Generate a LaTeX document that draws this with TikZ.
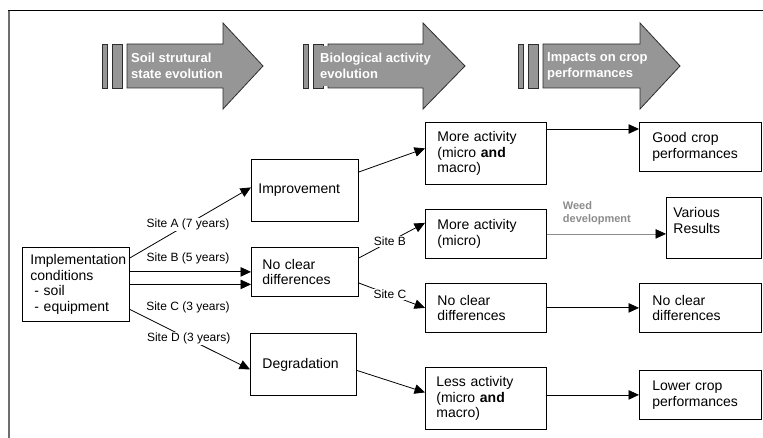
\documentclass[tikz,border=0pt]{standalone}
\usepackage{fontspec}
\setmainfont{Liberation Sans}
\usetikzlibrary{arrows.meta,calc}
\definecolor{hdrgray}{RGB}{150,150,150}
\definecolor{hdredge}{RGB}{45,45,45}
\definecolor{frameleft}{RGB}{110,110,110}
\definecolor{weedgray}{RGB}{140,140,140}
\begin{document}
\begin{tikzpicture}[x=1pt,y=-1pt,
  box/.style={draw, line width=0.8pt, fill=white, anchor=north west, align=left,
    inner ysep=0pt, font=\fontsize{14}{15.5}\selectfont},
  conn/.style={line width=0.8pt, -{Triangle[length=10.5pt,width=9.5pt]}},
  lbl/.style={fill=white, inner sep=1pt, font=\fontsize{12}{13}\selectfont},
  weed/.style={inner sep=0pt, align=left, text=weedgray, font=\bfseries\fontsize{11}{13}\selectfont},
  hdr/.style={fill=hdrgray, draw=hdredge, line width=0.8pt},
  hdrtxt/.style={text=white, font=\bfseries\fontsize{13}{16}\selectfont, align=left, anchor=west, inner sep=0pt}]
\useasboundingbox (0,0) rectangle (763,438);
% frame
\draw[line width=1pt, black] (8,11) -- (763,11);
\draw[line width=1.6pt, frameleft] (8.8,11) -- (8.8,438);

% header arrow 1
\draw[hdr] (102,44) rectangle (107,88);
\draw[hdr] (112,44) rectangle (122,88);
\draw[hdr] (127,44) -- (223,44) -- (223,23) -- (263,66) -- (223,109) -- (223,88) -- (127,88) -- cycle;
\node[hdrtxt] (h1) at (131,66) {Soil strutural\\state evolution};
% header arrow 2
\draw[hdr] (303,44) rectangle (308,88);
\draw[hdr] (313,44) rectangle (323,88);
\draw[hdr] (328,44) -- (423,44) -- (423,23) -- (465,66) -- (423,109) -- (423,88) -- (328,88) -- cycle;
\fill[hdrgray] (322,46) rectangle (329,86);
\node[hdrtxt] (h2) at (320,66) {Biological activity\\evolution};
% header arrow 3
\draw[hdr] (518,44) rectangle (523,88);
\draw[hdr] (528,44) rectangle (538,88);
\draw[hdr] (543,44) -- (640,44) -- (640,23) -- (680,66) -- (640,109) -- (640,88) -- (543,88) -- cycle;
\node[hdrtxt] (h3) at (547,66) {Impacts on crop\\performances};

% boxes
\node[box, text width=91pt, inner xsep=8pt, minimum height=74pt] (impl) at (22,247)
  {Implementation\\conditions\\\hspace*{4pt}- soil\\\hspace*{4pt}- equipment};
\node[box, text width=93pt, inner xsep=7pt, minimum height=62pt] (impr) at (251,159) {Improvement};
\node[box, text width=85pt, inner xsep=11pt, minimum height=49pt] (ncd) at (251,247) {No clear\\differences};
\node[box, text width=82pt, inner xsep=12pt, minimum height=62pt] (deg) at (250,333) {Degradation};
\node[box, text width=97pt, inner xsep=12pt, minimum height=62pt] (more1) at (425,122) {More activity\\(micro \textbf{and}\\macro)};
\node[box, text width=96pt, inner xsep=13pt, minimum height=49pt] (good) at (639,122) {Good crop\\performances};
\node[box, text width=97pt, inner xsep=12pt, minimum height=49pt] (more2) at (425,209) {More activity\\(micro)};
\node[box, text width=81pt, inner xsep=7pt, minimum height=61pt, text depth=30pt] (various) at (666,197) {Various\\Results};
\node[box, text width=97pt, inner xsep=12pt, minimum height=49pt] (ncd2) at (425,283) {No clear\\differences};
\node[box, text width=96pt, inner xsep=13pt, minimum height=49pt] (ncd3) at (639,283) {No clear\\differences};
\node[box, text width=99pt, inner xsep=11pt, minimum height=62pt] (less) at (425,367) {Less activity\\(micro \textbf{and}\\macro)};
\node[box, text width=96pt, inner xsep=13pt, minimum height=49pt] (lower) at (639,370) {Lower crop\\performances};

% connectors from implementation conditions
\draw[conn] ([yshift=-11pt]impl.north east) -- node[lbl, pos=0.48] (la) {Site A (7 years)} ([yshift=3pt]impr.west);
\draw[conn] (impl.east |- ncd.west) -- node[lbl, fill=none, pos=0.48, above=7pt] (lb) {Site B (5 years)} (ncd.west);
\draw[conn] (impl.east) -- node[lbl, fill=none, pos=0.48, below=16pt] (lc) {Site C (3 years)} (impl.east -| ncd.west);
\draw[conn] ([yshift=-25pt]impl.east) -- node[lbl, pos=0.49] (ld) {Site D (3 years)} ([yshift=-5pt]deg.west);

% second column
\draw[conn] ([yshift=-13pt]impr.north east) -- ([yshift=5pt]more1.west);
\draw[conn] ([yshift=-11pt]ncd.north east) -- node[lbl, pos=0.47] (lsb) {Site B} ([yshift=11pt]more2.west);
\draw[conn] ([yshift=-36pt]ncd.north east) -- node[lbl, pos=0.47] (lsc) {Site C} (ncd2.west);
\draw[conn] ([yshift=-6pt]deg.east) -- ([yshift=6pt]less.west);

% third column
\coordinate (m1) at ([yshift=-7pt]more1.north east);
\draw[conn] (m1) -- (m1 -| good.west);
\draw[line width=0.6pt, weedgray, -{Triangle[length=10.5pt,width=9.5pt,color=black]}] (more2.east) -- node[weed, pos=0.42, above=9pt] (lw) {Weed\\development} (more2.east -| various.west);
\draw[conn] (ncd2.east) -- (ncd3.west);
\draw[conn] (less.east |- lower.west) -- (lower.west);
\end{tikzpicture}
\end{document}
